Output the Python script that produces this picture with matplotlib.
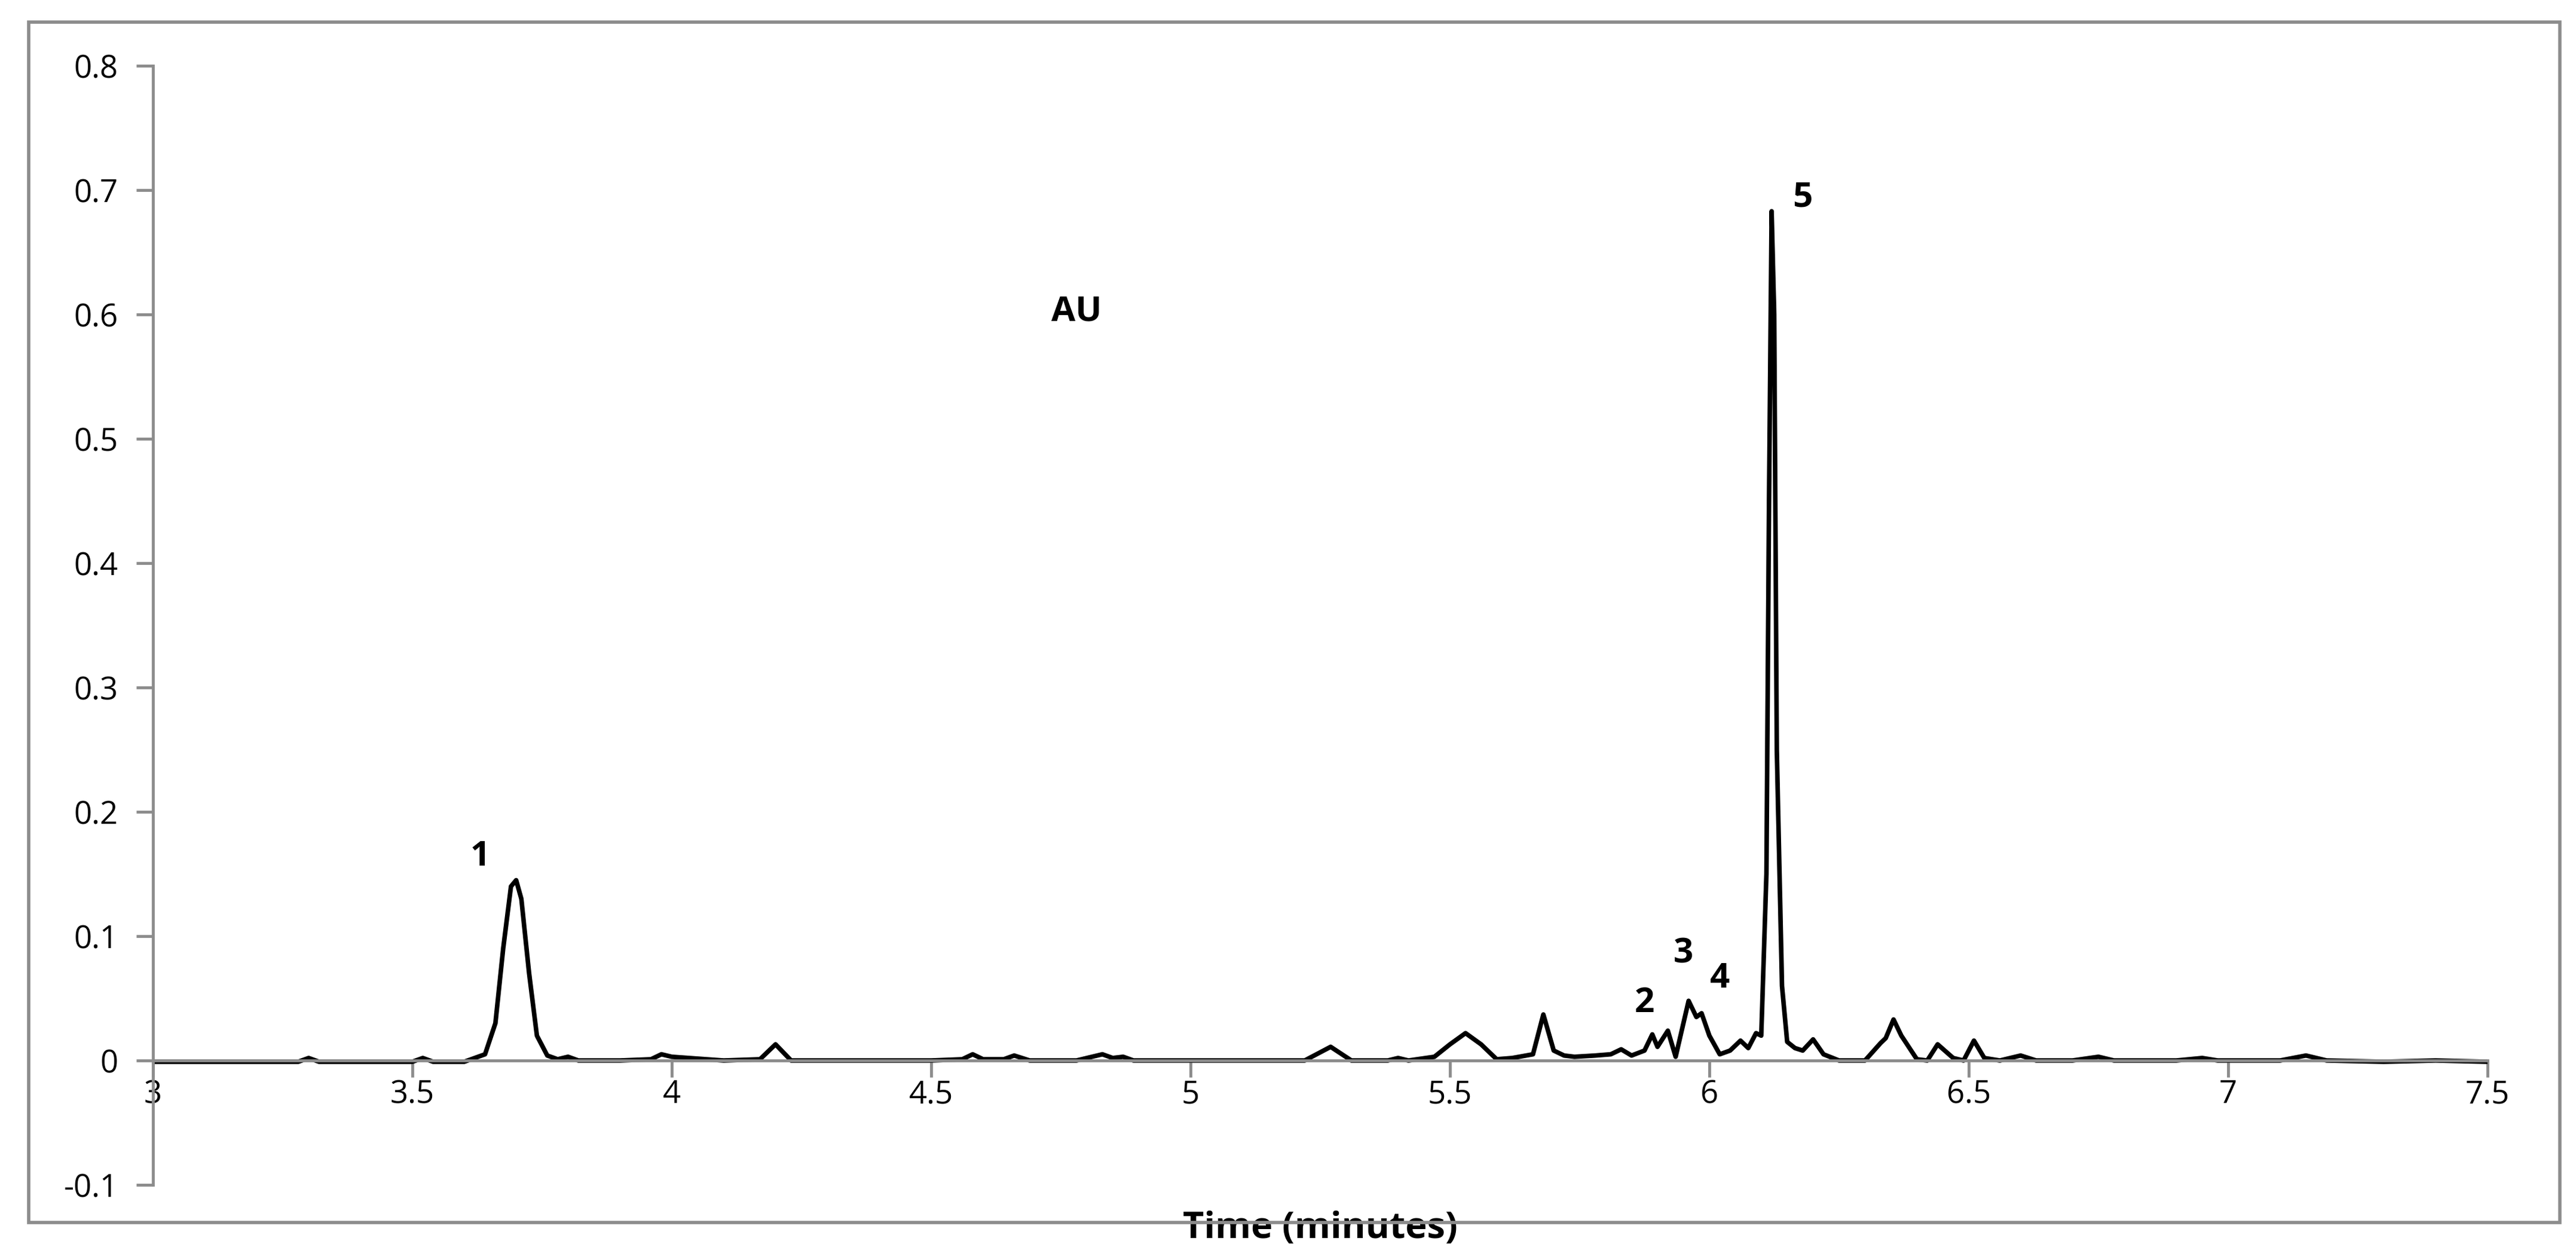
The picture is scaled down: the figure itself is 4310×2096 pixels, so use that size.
import matplotlib.pyplot as plt

# chromatogram trace (time in minutes, absorbance AU)
time = [3.00, 3.10, 3.20, 3.28, 3.30, 3.32, 3.40, 3.50, 3.52, 3.54, 3.60, 3.64, 3.66, 3.675, 3.69, 3.70,
        3.71, 3.725, 3.74, 3.76, 3.78, 3.80, 3.82, 3.90, 3.96, 3.98, 4.00, 4.10, 4.17, 4.20, 4.23,
        4.30, 4.40, 4.50, 4.56, 4.58, 4.60, 4.64, 4.66, 4.69, 4.78, 4.83, 4.85, 4.87, 4.89, 5.00,
        5.10, 5.22, 5.27, 5.31, 5.38, 5.40, 5.42, 5.47, 5.50, 5.53, 5.56, 5.59, 5.62, 5.66, 5.68,
        5.70, 5.72, 5.74, 5.78, 5.81, 5.83, 5.85, 5.875, 5.89, 5.90, 5.92, 5.935, 5.96, 5.975,
        5.985, 6.00, 6.02, 6.04, 6.06, 6.075, 6.09, 6.10, 6.11, 6.115, 6.12, 6.125, 6.13,
        6.14, 6.15, 6.165, 6.18, 6.20, 6.22, 6.25, 6.30, 6.33, 6.34, 6.355, 6.37, 6.40, 6.42, 6.44,
        6.47, 6.49, 6.51, 6.53, 6.56, 6.60, 6.63, 6.70, 6.75, 6.78, 6.90, 6.95, 6.98, 7.10, 7.15,
        7.19, 7.30, 7.40, 7.50]
absorb = [-0.001, -0.001, -0.001, -0.001, 0.002, -0.001, -0.001, -0.001, 0.002, -0.001, -0.001, 0.005, 0.03, 0.09, 0.14, 0.145,
          0.13, 0.07, 0.02, 0.004, 0.001, 0.003, 0.0, 0.0, 0.001, 0.005, 0.003, 0.0, 0.001, 0.013, 0.0,
          0.0, 0.0, 0.0, 0.001, 0.005, 0.001, 0.001, 0.004, 0.0, 0.0, 0.005, 0.002, 0.003, 0.0, 0.0,
          0.0, 0.0, 0.011, 0.0, 0.0, 0.002, 0.0, 0.003, 0.013, 0.022, 0.013, 0.001, 0.002, 0.005, 0.037,
          0.008, 0.004, 0.003, 0.004, 0.005, 0.009, 0.004, 0.008, 0.021, 0.011, 0.024, 0.003, 0.048, 0.035,
          0.038, 0.02, 0.005, 0.008, 0.016, 0.010, 0.022, 0.02, 0.15, 0.45, 0.683, 0.6, 0.25,
          0.06, 0.015, 0.01, 0.008, 0.017, 0.005, 0.0, 0.0, 0.014, 0.018, 0.033, 0.02, 0.001, 0.0, 0.013,
          0.002, 0.0, 0.016, 0.002, 0.0, 0.004, 0.0, 0.0, 0.003, 0.0, 0.0, 0.002, 0.0, 0.0, 0.004,
          0.0, -0.001, 0.0, -0.001]

peak_labels = ['1', '2', '3', '4', '5']
label_x = [3.63, 5.875, 5.95, 6.02, 6.18]
label_y = [0.150, 0.032, 0.072, 0.052, 0.680]

W, H = 4310, 2096
fig = plt.figure(figsize=(W / 100, H / 100), dpi=100)
plt.rcParams['font.family'] = ['Open Sans', 'DejaVu Sans']

# outer frame
fig.patches.append(plt.Rectangle((48 / W, 1 - 2045 / H), (4283 - 48) / W, (2045 - 37) / H,
                                 transform=fig.transFigure, fill=False, edgecolor='#8c8c8c', linewidth=4))

ax = fig.add_axes([256 / W, 1 - 1982 / H, (4162 - 256) / W, (1982 - 110) / H])
ax.plot(time, absorb, color='black', linewidth=5.5, solid_joinstyle='round')

ax.set_xlim(3, 7.5)
ax.set_ylim(-0.1, 0.8)
ax.set_xticks([3, 3.5, 4, 4.5, 5, 5.5, 6, 6.5, 7, 7.5])
ax.set_xticklabels(['3', '3.5', '4', '4.5', '5', '5.5', '6', '6.5', '7', '7.5'])
ax.set_yticks([-0.1, 0, 0.1, 0.2, 0.3, 0.4, 0.5, 0.6, 0.7, 0.8])
ax.set_yticklabels(['-0.1', '0', '0.1', '0.2', '0.3', '0.4', '0.5', '0.6', '0.7', '0.8'])

for s in ['top', 'right']:
    ax.spines[s].set_visible(False)
ax.spines['bottom'].set_position(('data', 0))
for s in ['left', 'bottom']:
    ax.spines[s].set_color('#8c8c8c')
    ax.spines[s].set_linewidth(3.5)
ax.tick_params(axis='both', colors='#8c8c8c', width=3.5, length=20, labelsize=38, labelcolor='black')
ax.tick_params(axis='x', direction='out', pad=2)
ax.tick_params(axis='y', pad=22)

for lab, lx, ly in zip(peak_labels, label_x, label_y):
    ax.text(lx, ly, lab, fontsize=42, fontweight='bold', ha='center', va='bottom')

ax.text(4.78, 0.595, 'AU', fontsize=42, fontweight='bold', ha='center')
ax.set_xlabel('Time (minutes)', fontsize=44, fontweight='bold', labelpad=120)

fig.savefig('out.png', dpi=100)
